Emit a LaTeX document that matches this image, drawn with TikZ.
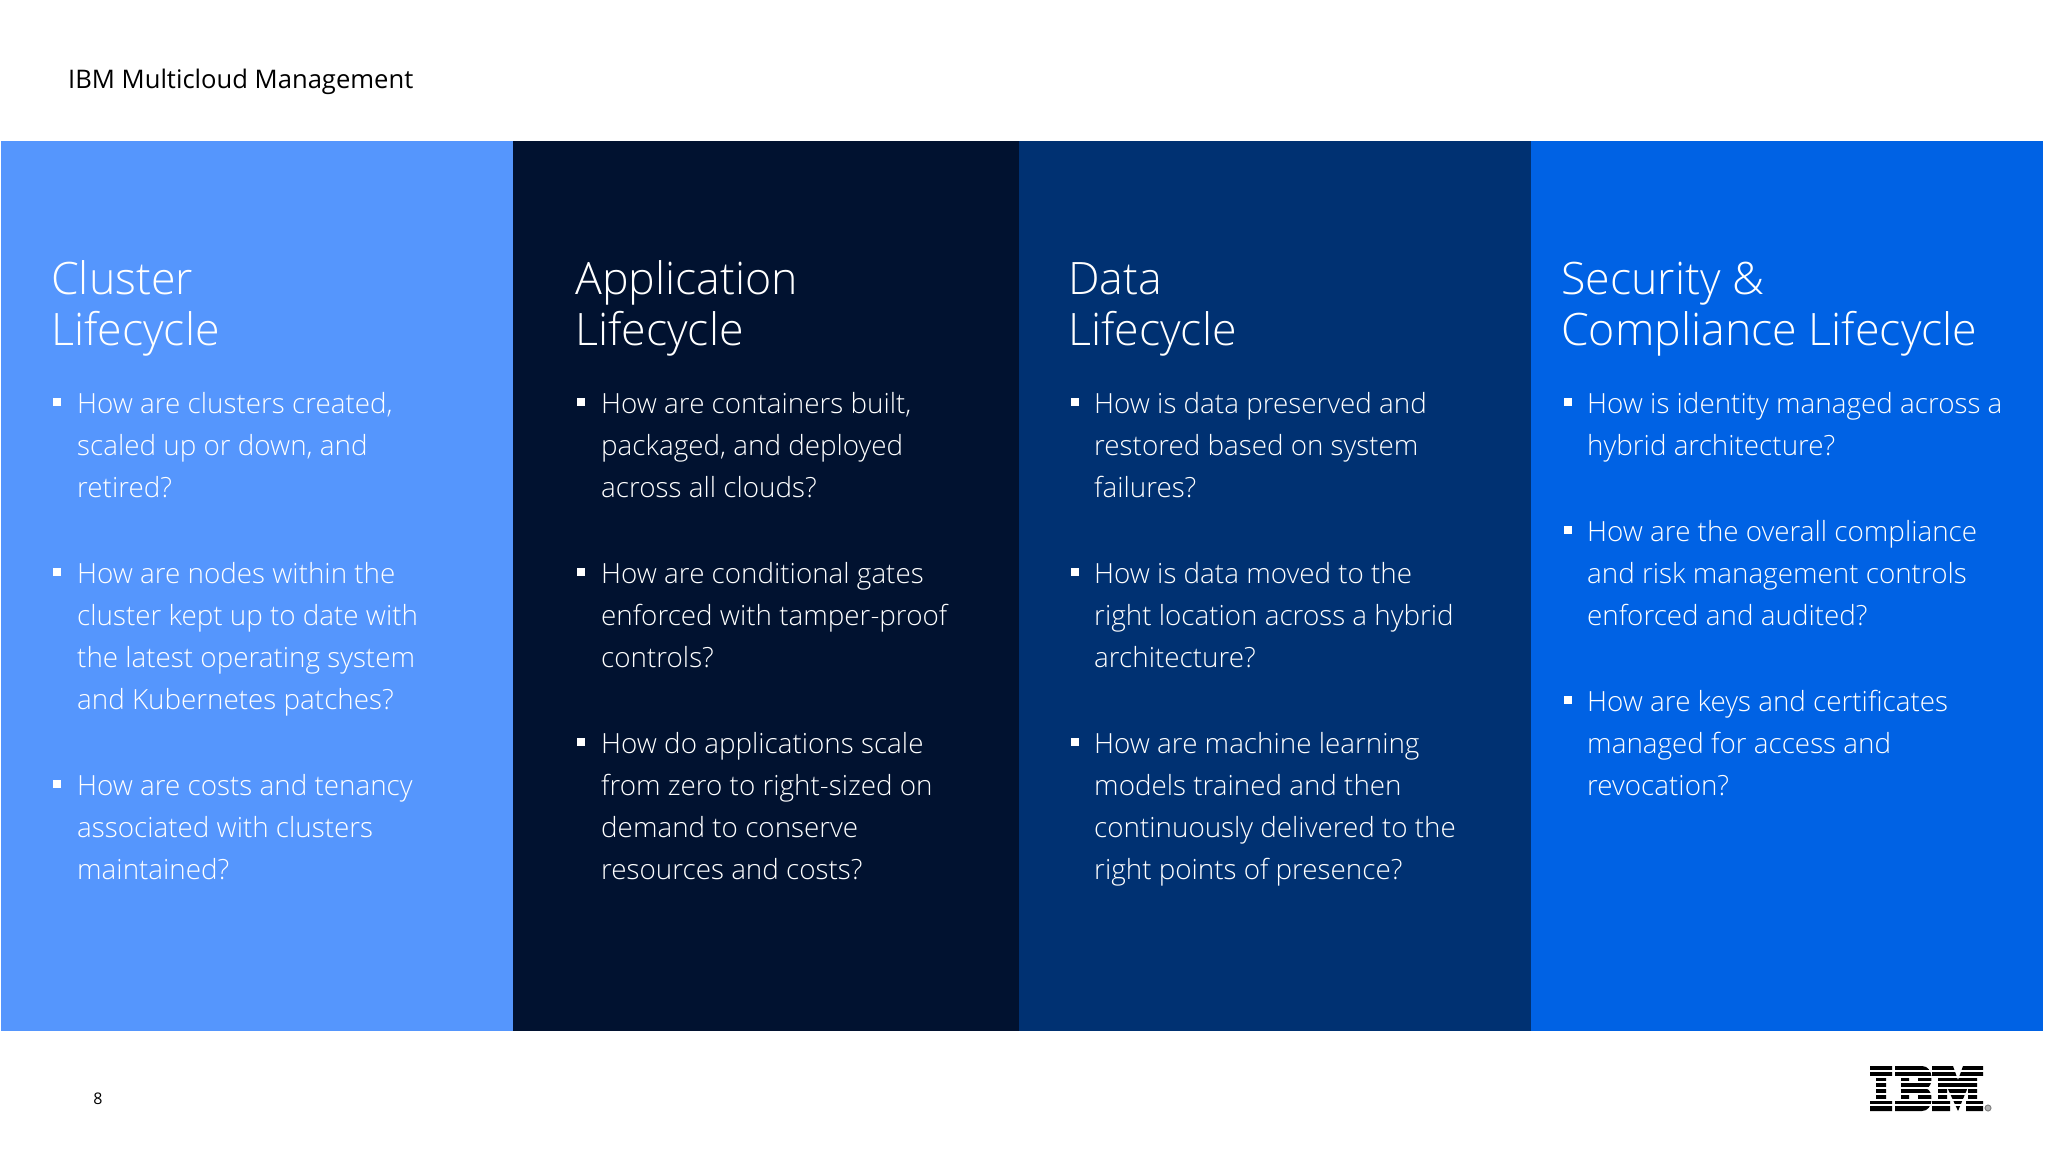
\documentclass[tikz,border=0pt]{standalone}
\usepackage{fontspec}
\setmainfont{Open Sans}[UprightFont=* Light]
\newfontfamily\regfont{Open Sans}
\definecolor{panelA}{HTML}{5596FD}
\definecolor{panelB}{HTML}{011230}
\definecolor{panelC}{HTML}{003172}
\definecolor{panelD}{HTML}{0062E4}
\tikzset{
 panel/.style={draw=none,inner sep=0pt,anchor=north west,minimum height=889.5pt},
 headtext/.style={text=white,inner sep=0pt,anchor=base west,align=left,font=\fontsize{44.7}{50.4}\selectfont},
 bodytext/.style={text=white,inner sep=0pt,anchor=north west,align=left,font=\fontsize{27.8}{42.1}\selectfont},
 sqbullet/.style={fill=white,inner sep=0pt,minimum size=8pt,anchor=center},
 logobar/.style={fill=white,draw=none}
}
\newcommand{\bul}[5]{% name, bulletx, textx, y, text
 \node[sqbullet] (#1b) at (#2,#4+18.5) {};
 \node[bodytext] (#1) at (#3,#4) {\strut #5};
}
\begin{document}
\begin{tikzpicture}[x=1pt,y=-1pt]
\useasboundingbox (0,0) rectangle (2048,1152);
\fill[white] (0,0) rectangle (2048,1152);
\node[anchor=base west,inner sep=0pt,font=\regfont\fontsize{25.6}{34}\selectfont,text=black] (slidetitle) at (68,88) {IBM Multicloud Management};
\node[panel,fill=panelA,minimum width=512pt] (pa) at (1,141) {};
\node[panel,fill=panelB,minimum width=506pt] (pb) at (513,141) {};
\node[panel,fill=panelC,minimum width=512pt] (pc) at (1019,141) {};
\node[panel,fill=panelD,minimum width=512pt] (pd) at (1531,141) {};
% column 1
\node[headtext] (ha) at (51,345) {Cluster\\Lifecycle};
\bul{a1}{57}{77}{383.5}{How are clusters created,\\scaled up or down, and\\retired?}
\bul{a2}{57}{77}{553.5}{How are nodes within the\\cluster kept up to date with\\the latest operating system\\and Kubernetes patches?}
\bul{a3}{57}{77}{765.5}{How are costs and tenancy\\associated with clusters\\maintained?}
% column 2
\node[headtext] (hb) at (575,345) {Application\\Lifecycle};
\bul{b1}{581}{601}{383.5}{How are containers built,\\packaged, and deployed\\across all clouds?}
\bul{b2}{581}{601}{553.5}{How are conditional gates\\enforced with tamper-proof\\controls?}
\bul{b3}{581}{601}{723.5}{How do applications scale\\from zero to right-sized on\\demand to conserve\\resources and costs?}
% column 3
\node[headtext] (hc) at (1068,345) {Data\\Lifecycle};
\bul{c1}{1075}{1094}{383.5}{How is data preserved and\\restored based on system\\failures?}
\bul{c2}{1075}{1094}{553.5}{How is data moved to the\\right location across a hybrid\\architecture?}
\bul{c3}{1075}{1094}{723.5}{How are machine learning\\models trained and then\\continuously delivered to the\\right points of presence?}
% column 4
\node[headtext] (hd) at (1561,345) {Security \&\\Compliance Lifecycle};
\bul{d1}{1568}{1587}{383.5}{How is identity managed across a\\hybrid architecture?}
\bul{d2}{1568}{1587}{511.5}{How are the overall compliance\\and risk management controls\\enforced and audited?}
\bul{d3}{1568}{1587}{681.5}{How are keys and certificates\\managed for access and\\revocation?}
% page number
\node[inner sep=0pt,font=\regfont\fontsize{16}{20}\selectfont,text=black] (pagenum) at (98,1099) {8};
% IBM logo
\fill[black] (1870,1066) rectangle (1892,1077) (1876,1077) rectangle (1886,1100) (1870,1100) rectangle (1892,1111);
\fill[black,even odd rule] (1895,1066) -- (1922,1066) .. controls (1934,1066) and (1934,1087) .. (1926,1088.5) .. controls (1934,1090) and (1934,1111) .. (1922,1111) -- (1895,1111) -- (1895,1100) -- (1901,1100) -- (1901,1077) -- (1895,1077) -- cycle
 (1909,1077) -- (1918,1077) -- (1918,1083) -- (1909,1083) -- cycle
 (1909,1094) -- (1918,1094) -- (1918,1100) -- (1909,1100) -- cycle;
\fill[black] (1932,1066) -- (1953,1066) -- (1958,1080) -- (1963,1066) -- (1983,1066) -- (1983,1077) -- (1977,1077) -- (1977,1100) -- (1983,1100) -- (1983,1111) -- (1966,1111) -- (1966,1100) -- (1968,1100) -- (1968,1087) -- (1958,1111) -- (1947,1087) -- (1947,1100) -- (1950,1100) -- (1950,1111) -- (1932,1111) -- (1932,1100) -- (1938,1100) -- (1938,1077) -- (1932,1077) -- cycle;
\foreach \k in {0,...,6} {\fill[logobar] (1868,1069.9+\k*5.75) rectangle (1986,1071.9+\k*5.75);}
\node[circle,draw=gray,fill=gray!60,line width=1pt,inner sep=0pt,minimum size=6pt] (regmark) at (1988,1108) {};
\end{tikzpicture}
\end{document}
